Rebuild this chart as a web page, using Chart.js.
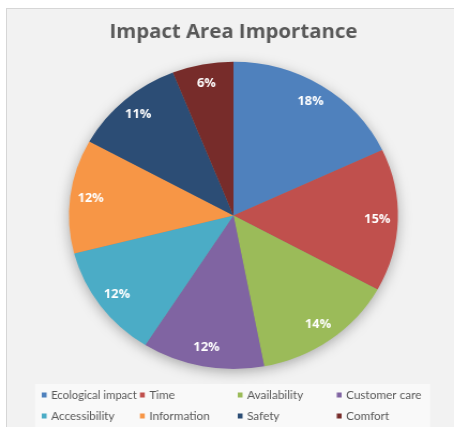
<!DOCTYPE html>
<html>
<head>
<meta charset="utf-8">
<title>Impact Area Importance</title>
<script src="https://cdn.jsdelivr.net/npm/chart.js@4/dist/chart.umd.min.js"></script>
<style>
  html, body { margin: 0; padding: 0; background: #ffffff; }
  #frame { position: absolute; left: 0; top: 0; width: 454px; height: 427px; overflow: hidden; }
  #panel {
    position: absolute; left: 6px; top: 8px; width: 448px; height: 419px;
    background: #f2f2f2; border-left: 1px solid #d6d6d6; border-top: 1px solid #d6d6d6;
  }
  /* the chart is drawn a little narrower and widened back out, so the pie reads as a slight oval */
  #wrap {
    position: absolute; left: 0; top: 0; width: 424px; height: 427px;
    transform-origin: 0 0; transform: scaleX(1.0708);
  }
</style>
</head>
<body>
<div id="frame">
  <div id="panel"></div>
  <div id="wrap"><canvas id="impact-chart"></canvas></div>
</div>
<script>
const categories = ['Ecological impact', 'Time', 'Availability', 'Customer care',
                    'Accessibility', 'Information', 'Safety', 'Comfort'];
const shares = [18, 15, 14, 12, 12, 12, 11, 6];
const sliceColors = ['#4F81BD', '#C0504D', '#9BBB59', '#8064A2',
                     '#4BACC6', '#F79646', '#2C4D75', '#772C2A'];

// soft drop shadow under the whole pie
const pieShadow = {
  id: 'pieShadow',
  beforeDatasetsDraw(chart) {
    const arc = chart.getDatasetMeta(0).data[0];
    if (!arc) return;
    const ctx = chart.ctx;
    ctx.save();
    ctx.shadowColor = 'rgba(0, 0, 0, 0.35)';
    ctx.shadowBlur = 14;
    ctx.shadowOffsetY = 3;
    ctx.fillStyle = '#888888';
    ctx.beginPath();
    ctx.arc(arc.x, arc.y, arc.outerRadius - 1, 0, Math.PI * 2);
    ctx.fill();
    ctx.restore();
  }
};

// percentage labels inside each slice
const sliceLabels = {
  id: 'sliceLabels',
  afterDatasetsDraw(chart) {
    const ctx = chart.ctx;
    const values = chart.data.datasets[0].data;
    ctx.save();
    ctx.fillStyle = '#ffffff';
    ctx.font = 'bold 12px "Open Sans"';
    ctx.textAlign = 'center';
    ctx.textBaseline = 'middle';
    chart.getDatasetMeta(0).data.forEach((arc, i) => {
      const p = arc.getProps(['x', 'y', 'startAngle', 'endAngle', 'outerRadius'], true);
      const mid = (p.startAngle + p.endAngle) / 2;
      const r = p.outerRadius * 0.875;
      ctx.fillText(values[i] + '%', p.x + Math.cos(mid) * r, p.y + Math.sin(mid) * r);
    });
    ctx.restore();
  }
};

// four-column legend in a pale box along the bottom
const gridLegend = {
  id: 'gridLegend',
  afterDraw(chart) {
    const ctx = chart.ctx;
    const cols = [39, 130.7, 222, 314.5];
    const rows = [395, 416];
    ctx.save();
    ctx.fillStyle = '#f9f9f9';
    ctx.fillRect(32.7, 384, 369, 50);
    ctx.font = '11px Lato';
    ctx.textBaseline = 'middle';
    categories.forEach((name, i) => {
      const x = cols[i % 4];
      const y = rows[Math.floor(i / 4)];
      ctx.fillStyle = sliceColors[i];
      ctx.fillRect(x, y - 2.5, 4.5, 5);
      ctx.fillStyle = '#595959';
      ctx.fillText(name, x + 8.7, y, 80);
    });
    ctx.restore();
  }
};

new Chart(document.getElementById('impact-chart').getContext('2d'), {
  type: 'pie',
  data: {
    labels: categories,
    datasets: [{
      data: shares,
      backgroundColor: sliceColors,
      borderWidth: 0
    }]
  },
  options: {
    responsive: true,
    maintainAspectRatio: false,
    animation: false,
    layout: {
      padding: { left: 30, right: 18, top: 0, bottom: 58 }
    },
    plugins: {
      legend: { display: false },
      tooltip: { enabled: false },
      title: {
        display: true,
        text: 'Impact Area Importance',
        color: '#595959',
        font: { family: 'Open Sans', size: 19, weight: 'bold', lineHeight: 1.2 },
        padding: { top: 21, bottom: 18 }
      }
    }
  },
  plugins: [pieShadow, sliceLabels, gridLegend]
});
</script>
</body>
</html>
